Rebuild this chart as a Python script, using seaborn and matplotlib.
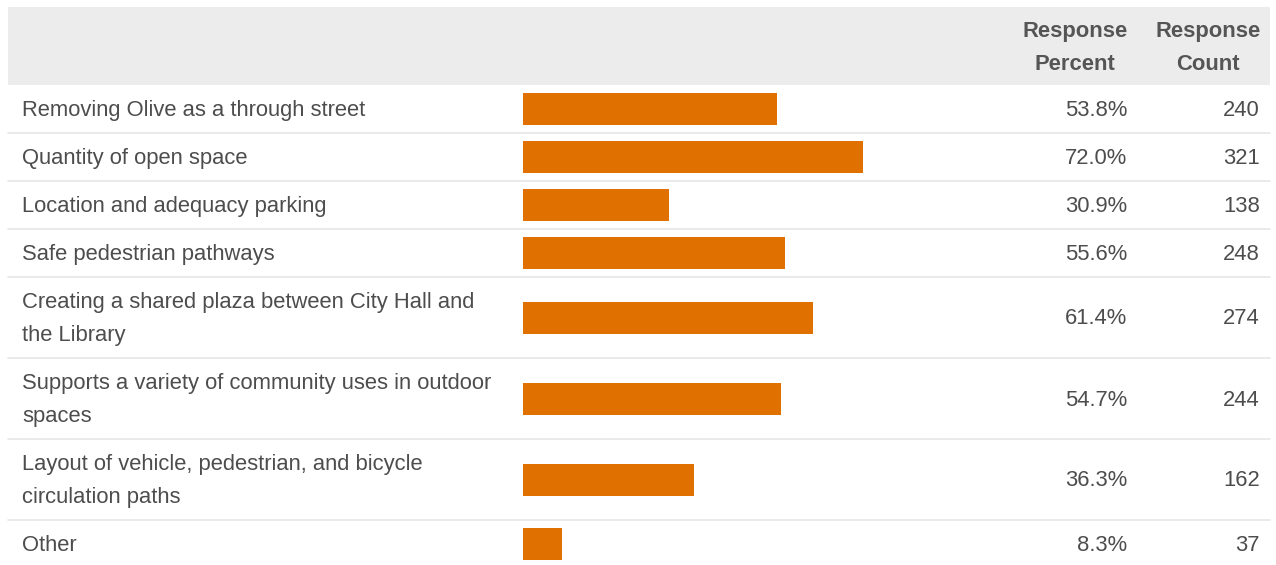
import pandas as pd
import seaborn as sns
import matplotlib.pyplot as plt

# survey answers
answers = [
    "Removing Olive as a through street",
    "Quantity of open space",
    "Location and adequacy parking",
    "Safe pedestrian pathways",
    "Creating a shared plaza between City Hall and\nthe Library",
    "Supports a variety of community uses in outdoor\nspaces",
    "Layout of vehicle, pedestrian, and bicycle\ncirculation paths",
    "Other",
]
percent = [53.8, 72.0, 30.9, 55.6, 61.4, 54.7, 36.3, 8.3]
count = [240, 321, 138, 248, 274, 244, 162, 37]
header = ["Response\nPercent", "Response\nCount"]

W, H = 1276, 565
sns.set_style("white")
plt.rcParams["font.family"] = ["Liberation Sans", "DejaVu Sans"]

# row layout in pixels
head_top, head_bot = 7, 85
row_h = [81 if "\n" in a else 48 for a in answers]
tops = [head_bot]
for h in row_h[:-1]:
    tops.append(tops[-1] + h)
centers = [t + h / 2 for t, h in zip(tops, row_h)]

df = pd.DataFrame({"answer": answers, "percent": percent, "count": count, "y": centers})

fig = plt.figure(figsize=(W / 100, H / 100), dpi=100)
bg = fig.add_axes([0, 0, 1, 1])
bg.set_xlim(0, W)
bg.set_ylim(H, 0)
bg.axis("off")

bg.axhspan(head_top, head_bot, xmin=8 / W, xmax=1270 / W, color="#ececec", lw=0)
for t in tops[1:]:
    bg.plot([8, 1270], [t, t], color="#e6e6e6", lw=1.2)

txt = "#4d4d4d"
fs = 15.8
dy = 1.5
bg.text(1075, (head_top + head_bot) / 2 + dy, header[0], ha="center", va="center",
        fontsize=fs, fontweight="bold", color="#555555", linespacing=1.75)
bg.text(1208, (head_top + head_bot) / 2 + dy, header[1], ha="center", va="center",
        fontsize=fs, fontweight="bold", color="#555555", linespacing=1.75)

for _, r in df.iterrows():
    bg.text(22, r["y"] + dy, r["answer"], ha="left", va="center", fontsize=fs,
            color=txt, linespacing=1.75)
    bg.text(1127, r["y"] + dy, f"{r['percent']:.1f}%", ha="right", va="center",
            fontsize=fs, color=txt)
    bg.text(1260, r["y"] + dy, f"{r['count']}", ha="right", va="center",
            fontsize=fs, color=txt)

# bars: 0..100% maps onto x pixels 523..995
ax = fig.add_axes([523 / W, 0, (995 - 523) / W, 1])
ax.patch.set_alpha(0)
sns.barplot(data=df, x="percent", y="y", orient="h", native_scale=True,
            width=32 / 48, color="#e07000", saturation=1, linewidth=0, ax=ax)
ax.set_xlim(0, 100)
ax.set_ylim(H, 0)
ax.axis("off")

fig.savefig("out.png", dpi=100)
